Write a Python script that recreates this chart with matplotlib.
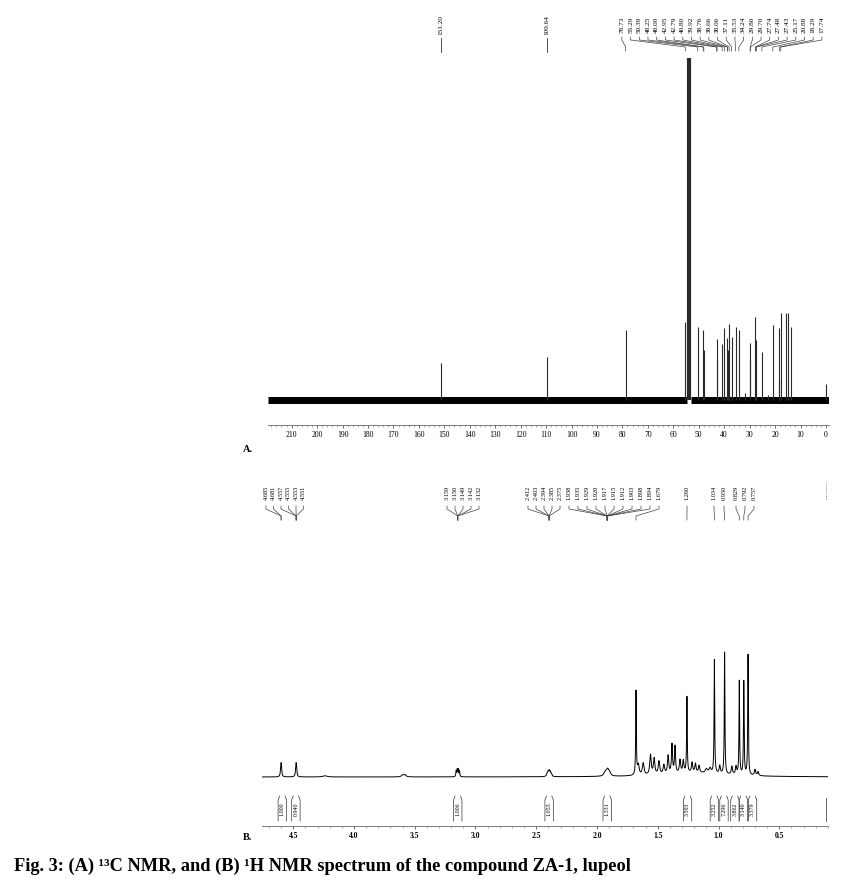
import numpy as np
import matplotlib
matplotlib.use("Agg")
import matplotlib.pyplot as plt
from matplotlib.transforms import blended_transform_factory
from matplotlib.ticker import MultipleLocator

# ---------------- data ----------------
# 13C spectrum peaks (ppm, relative height)
c13_ppm = [151.20, 109.64, 78.73, 55.29, 53.84, 50.39, 48.25, 48.00, 42.95, 42.79,
           40.80, 39.92, 38.76, 38.66, 38.06, 37.11, 35.53, 34.24, 32.0, 29.80,
           29.70, 27.74, 27.43, 25.17, 22.6, 20.88, 18.6, 18.29, 17.74, 15.6,
           14.8, 13.8, 0.0]
c13_height = [37, 43, 70, 78, 342, 73, 70, 50, 61, 40,
              56, 72, 62, 50, 76, 63, 73, 70, 7, 57,
              40, 83, 60, 48, 5, 75, 19, 72, 87, 87,
              87, 73, 16]
c13_solo_labels = ["151.20", "109.64"]
c13_group_labels = ["78.73", "55.29", "50.39", "48.25", "48.00", "42.95", "42.79",
                    "40.80", "39.92", "38.76", "38.66", "38.06", "37.11", "35.53",
                    "34.24", "29.80", "29.70", "27.74", "27.48", "27.43", "25.17",
                    "20.88", "18.29", "17.74"]
c13_ticks = list(range(210, -1, -10))

# 1H spectrum peaks as drawn (ppm position on the plotted axis, height, half-width)
h1_ppm = [4.602, 4.598, 4.478, 4.474, 4.24, 3.60, 3.58,
          3.159, 3.150, 3.142, 3.132,
          2.412, 2.403, 2.394, 2.385, 2.375,
          1.938, 1.929, 1.917, 1.912, 1.903, 1.894,
          1.679, 1.66, 1.62, 1.56, 1.53, 1.49, 1.45, 1.415, 1.383, 1.358,
          1.317, 1.29, 1.260, 1.218, 1.19, 1.16, 1.10, 1.07, 1.034, 0.99,
          0.950, 0.89, 0.856, 0.829, 0.792, 0.757, 0.70, 0.675, 1.2]
h1_height = [9, 9, 9, 9, 1.2, 2, 2,
             6, 7, 7, 6,
             2.5, 4, 5, 4, 2.5,
             2, 2.5, 3, 3, 2.5, 2,
             84, 10, 12, 20, 16, 13, 9, 18, 29, 27,
             13, 12, 76, 10, 9, 7, 4, 5, 114, 8,
             122, 8, 8, 94, 95, 122, 6, 4, 4]
h1_width = [0.004, 0.004, 0.004, 0.004, 0.02, 0.01, 0.01,
            0.003, 0.003, 0.003, 0.003,
            0.005, 0.005, 0.005, 0.005, 0.005,
            0.01, 0.01, 0.01, 0.01, 0.01, 0.01,
            0.003, 0.008, 0.008, 0.007, 0.007, 0.007, 0.007, 0.006, 0.005, 0.005,
            0.006, 0.006, 0.003, 0.006, 0.006, 0.006, 0.01, 0.01, 0.003, 0.006,
            0.003, 0.006, 0.006, 0.003, 0.003, 0.003, 0.006, 0.006, 0.3]

h1_label_groups = [
    (["4.685", "4.681"], 4.600),
    (["4.557", "4.555", "4.553", "4.551"], 4.476),
    (["3.159", "3.150", "3.149", "3.142", "3.132"], 3.146),
    (["2.412", "2.403", "2.394", "2.385", "2.375"], 2.394),
    (["1.938", "1.935", "1.929", "1.920", "1.917", "1.915", "1.912", "1.903", "1.898", "1.894"], 1.916),
    (["1.679"], 1.679),
    (["1.260"], 1.260),
    (["1.034"], 1.034),
    (["0.950"], 0.950),
    (["0.829"], 0.829),
    (["0.792"], 0.792),
    (["0.757"], 0.757),
]
h1_integral_values = ["1.000", "0.940", "1.006", "1.053", "1.331", "3.593",
                      "3.252", "7.296", "3.862", "3.140", "3.379"]
h1_integral_ppm = [4.590, 4.478, 3.146, 2.394, 1.916, 1.255,
                   1.034, 0.955, 0.865, 0.795, 0.72]
h1_ticks = [4.5, 4.0, 3.5, 3.0, 2.5, 2.0, 1.5, 1.0, 0.5]

# ---------------- figure ----------------
W, H = 854, 885
fig = plt.figure(figsize=(W / 100, H / 100), dpi=100)
SERIF = ["Liberation Serif", "DejaVu Serif"]
plt.rcParams["font.family"] = SERIF


def fy(py):
    return 1 - py / H


def rect(l, t, r, b):
    return [l / W, fy(b), (r - l) / W, (b - t) / H]


def style_axis(ax, major, minor, fs):
    for s in ("top", "left", "right"):
        ax.spines[s].set_visible(False)
    ax.spines["bottom"].set_color("#666666")
    ax.spines["bottom"].set_linewidth(0.6)
    ax.yaxis.set_visible(False)
    ax.xaxis.set_major_locator(MultipleLocator(major))
    ax.xaxis.set_minor_locator(MultipleLocator(minor))
    ax.tick_params(axis="x", which="major", length=2.5, width=0.6, color="#555555",
                   labelsize=fs, pad=2)
    ax.tick_params(axis="x", which="minor", length=1.2, width=0.4, color="#777777")
    ax.patch.set_alpha(0)


# ---- Panel A: 13C ----
axA = fig.add_axes(rect(268, 50, 829, 425))
axA.set_xlim(219.3, -1.2)
axA.set_ylim(-25, 350)
style_axis(axA, 10, 2, 5.5)
axA.set_xticks(c13_ticks)
axA.set_xticklabels([str(t) for t in c13_ticks])
# baseline noise band
axA.plot([219.3, 54.6], [0, 0], color="black", lw=5.0, solid_capstyle="butt")
axA.plot([53.1, -1.2], [0, 0], color="black", lw=5.0, solid_capstyle="butt")
lw = [3.0 if p == 53.84 else 0.8 for p in c13_ppm]
axA.vlines(c13_ppm, 0, c13_height, colors="#2a2a2a", linewidths=lw)

trA = blended_transform_factory(axA.transData, fig.transFigure)
for lab in c13_solo_labels:
    p = float(lab)
    fig.text(p, fy(25), lab, transform=trA, fontsize=5.2, rotation=90,
             ha="center", va="center", family=SERIF)
    axA.plot([p, p], [fy(38), fy(52)], transform=trA, color="#333333", lw=0.6,
             clip_on=False)

n = len(c13_group_labels)
lab_x = np.linspace(80.2, 1.6, n)
for lab, lx in zip(c13_group_labels, lab_x):
    p = float(lab)
    fig.text(lx, fy(25), lab, transform=trA, fontsize=5.2, rotation=90,
             ha="center", va="center", family=SERIF)
    axA.plot([lx, lx, p, p], [fy(37), fy(40), fy(47), fy(51)], transform=trA,
             color="#444444", lw=0.5, clip_on=False)

fig.text(243 / W, fy(449), "A.", fontsize=7.5, fontweight="bold", ha="left",
         va="center", family=SERIF)

# ---- Panel B: 1H ----
axB = fig.add_axes(rect(262, 640, 828, 826))
axB.set_xlim(4.757, 0.099)
axB.set_ylim(-49, 137)
style_axis(axB, 0.5, 0.1, 5.5)
axB.set_xticks(h1_ticks)
axB.set_xticklabels([f"{t:.1f}" for t in h1_ticks])
for lbl in axB.get_xticklabels():
    lbl.set_fontweight("bold")
grid = np.linspace(4.757, 0.099, 6000)
spec = np.zeros_like(grid)
for p, h, w in zip(h1_ppm, h1_height, h1_width):
    spec += h / (1 + ((grid - p) / w) ** 2)
axB.plot(grid, spec, color="black", lw=0.7)

trB = blended_transform_factory(axB.transData, fig.transFigure)
px_per_ppm = 566 / (4.757 - 0.099)


def ppm_of(px):
    return 4.757 - (px - 262) / px_per_ppm


# label x positions (px) for each group
group_px = [
    [266, 273.5],
    [281, 288.5, 296, 303.5],
    [447, 455, 463, 471, 479],
    [528, 536, 544, 552, 560],
    [569, 578, 587, 596, 605, 614, 623, 632, 641, 650],
    [659],
    [687],
    [714],
    [724],
    [736],
    [745],
    [754],
]
for (labs, target), pxs in zip(h1_label_groups, group_px):
    for lab, lpx in zip(labs, pxs):
        lx = ppm_of(lpx)
        fig.text(lx, fy(493), lab, transform=trB, fontsize=4.6, rotation=90,
                 ha="center", va="center", family=SERIF)
        axB.plot([lx, lx, target, target], [fy(506), fy(509), fy(516), fy(520)],
                 transform=trB, color="#444444", lw=0.5, clip_on=False)
# truncated label at the far right
axB.plot([ppm_of(826)] * 2, [fy(483), fy(500)], transform=trB, color="#888888",
         lw=0.6, ls=(0, (1.5, 1.5)), clip_on=False)

# integrals
for val, p in zip(h1_integral_values, h1_integral_ppm):
    dx = 4.2 / px_per_ppm
    for s in (-1, 1):
        x0 = p + s * dx
        axB.plot([x0, x0, x0 - s * 1.5 / px_per_ppm], [fy(821), fy(800), fy(796)],
                 transform=trB, color="#333333", lw=0.5, clip_on=False)
    fig.text(p, fy(809), val, transform=trB, fontsize=4.3, rotation=90,
             ha="center", va="center", family=SERIF)
x0 = ppm_of(826)
axB.plot([x0, x0], [fy(821), fy(798)], transform=trB, color="#333333", lw=0.5,
         clip_on=False)

fig.text(243 / W, fy(838), "B.", fontsize=7.5, fontweight="bold", ha="left",
         va="center", family=SERIF)

fig.text(14 / W, fy(866), "Fig. 3: (A) \u00b9\u00b3C NMR, and (B) \u00b9H NMR spectrum of the compound ZA-1, lupeol",
         fontsize=13.2, fontweight="bold", ha="left", va="center", family=SERIF)

fig.savefig("out.png", dpi=100)
